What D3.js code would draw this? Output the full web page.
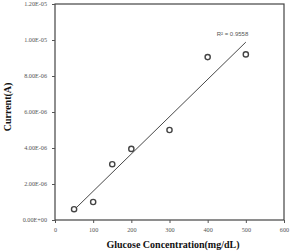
<!DOCTYPE html>
<html><head><meta charset="utf-8">
<script src="https://cdn.jsdelivr.net/npm/d3@7"></script>
<style>html,body{margin:0;padding:0;background:#fff;}</style>
</head><body>
<script>
const concentrations = [50, 100, 150, 200, 300, 400, 500];
const currents = [6.0e-7, 1.0e-6, 3.1e-6, 3.95e-6, 5.0e-6, 9.05e-6, 9.2e-6];
const xTicks = [0, 100, 200, 300, 400, 500, 600];
const yTicks = [0, 2e-6, 4e-6, 6e-6, 8e-6, 1e-5, 1.2e-5];
const yTickLabels = ["0.00E+00","2.00E-06","4.00E-06","6.00E-06","8.00E-06","1.00E-05","1.20E-05"];
const r2Label = "R² = 0.9558";

const W = 293, H = 252;
const m = {left: 55, top: 4, right: 9, bottom: 32};
const svg = d3.select("body").append("svg").attr("width", W).attr("height", H);
const x = d3.scaleLinear().domain([0, 600]).range([m.left, W - m.right]);
const y = d3.scaleLinear().domain([0, 1.2e-5]).range([H - m.bottom, m.top]);

// frame
svg.append("rect").attr("x", x(0)).attr("y", y(1.2e-5))
  .attr("width", x(600) - x(0)).attr("height", y(0) - y(1.2e-5))
  .attr("fill", "none").attr("stroke", "#444").attr("stroke-width", 1.2);

const xa = svg.append("g").attr("transform", `translate(0,${y(0)})`)
  .call(d3.axisBottom(x).tickValues(xTicks).tickSize(3).tickPadding(5).tickFormat(d3.format("d")));
const ya = svg.append("g").attr("transform", `translate(${x(0)},0)`)
  .call(d3.axisLeft(y).tickValues(yTicks).tickSize(3).tickPadding(5).tickFormat((d,i) => yTickLabels[i]));
[xa, ya].forEach(g => {
  g.select(".domain").remove();
  g.selectAll("line").attr("stroke", "#555");
  g.selectAll("text").attr("fill", "#555").style("font-family", "Liberation Serif, serif").style("font-size", "6.2px");
});

// trendline (least squares)
const mx = d3.mean(concentrations), my = d3.mean(currents);
let sxy = 0, sxx = 0;
concentrations.forEach((c, i) => { sxy += (c - mx) * (currents[i] - my); sxx += (c - mx) ** 2; });
const slope = sxy / sxx, icpt = my - slope * mx;
const x0 = d3.min(concentrations), x1 = d3.max(concentrations);
svg.append("line").attr("x1", x(x0)).attr("y1", y(icpt + slope * x0))
  .attr("x2", x(x1)).attr("y2", y(icpt + slope * x1))
  .attr("stroke", "#333").attr("stroke-width", 0.9);

svg.selectAll("circle.pt").data(concentrations).enter().append("circle")
  .attr("cx", d => x(d)).attr("cy", (d, i) => y(currents[i])).attr("r", 2.6)
  .attr("fill", "#fff").attr("stroke", "#444").attr("stroke-width", 1.4);

svg.append("text").attr("x", x(465)).attr("y", y(1.025e-5)).attr("text-anchor", "middle")
  .attr("fill", "#555").style("font-family", "Liberation Sans, sans-serif").style("font-size", "6px").text(r2Label);

svg.append("text").attr("x", 173).attr("y", 247.5).attr("text-anchor", "middle")
  .style("font-family", "Liberation Serif, serif").style("font-weight", "bold").style("font-size", "10px")
  .attr("fill", "#111").text("Glucose Concentration(mg/dL)");
svg.append("text").attr("transform", `translate(11,107) rotate(-90)`).attr("text-anchor", "middle")
  .style("font-family", "Liberation Serif, serif").style("font-weight", "bold").style("font-size", "10px")
  .attr("fill", "#111").text("Current(A)");
</script>
</body></html>
